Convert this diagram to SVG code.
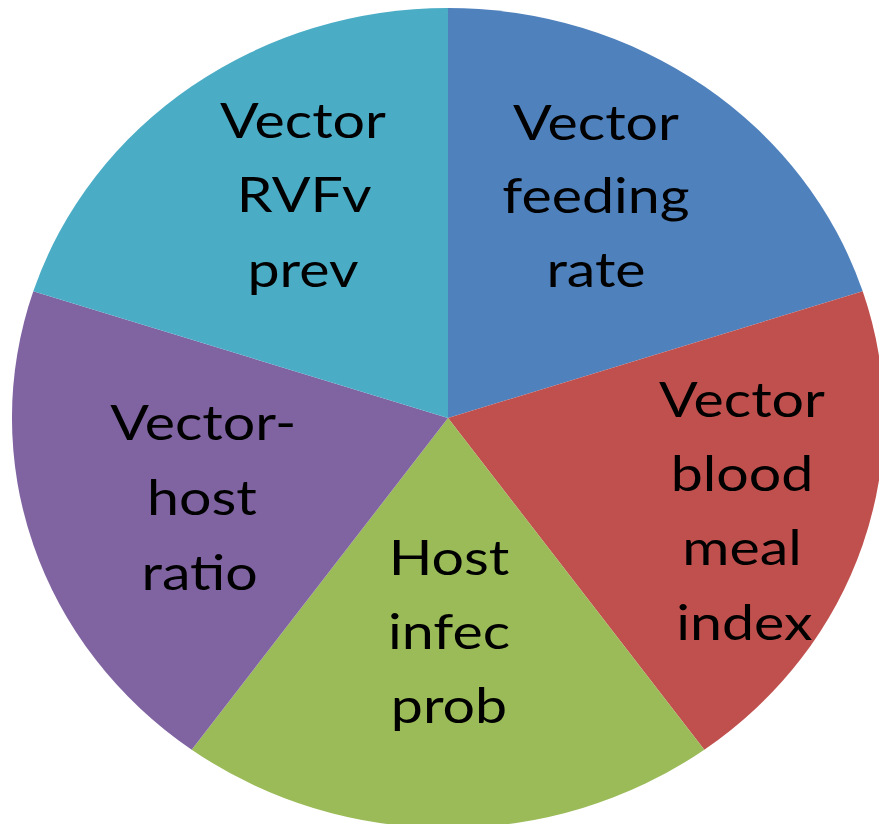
<svg xmlns="http://www.w3.org/2000/svg" width="879" height="824" viewBox="0 0 879 824">
<style>
text{font-family:Lato,"Open Sans","Liberation Sans",sans-serif;font-size:49px;fill:#000;text-anchor:middle}
</style>
<rect width="879" height="824" fill="#fff"/>
<g id="slice-feeding">
<path d="M448,418 L448,8 A436,410 0 0,1 862.7,291.3 Z" fill="#4F81BD"/>
<text transform="translate(596,0) scale(1.17,1)"><tspan x="0" y="140">Vector</tspan><tspan x="0" y="213">feeding</tspan><tspan x="0" y="287">rate</tspan></text>
</g>
<g id="slice-bloodmeal">
<path d="M448,418 L862.7,291.3 A436,410 0 0,1 704.3,749.7 Z" fill="#C0504D"/>
<text transform="translate(742,0) scale(1.17,1)"><tspan x="0" y="417">Vector</tspan><tspan x="0" y="491">blood</tspan><tspan x="0" y="565">meal</tspan><tspan x="2" y="640">index</tspan></text>
</g>
<g id="slice-hostinfec">
<path d="M448,418 L704.3,749.7 A436,410 0 0,1 191.7,749.7 Z" fill="#9BBB59"/>
<text transform="translate(449,0) scale(1.17,1)"><tspan x="0" y="575">Host</tspan><tspan x="0" y="649">infec</tspan><tspan x="0" y="723">prob</tspan></text>
</g>
<g id="slice-ratio">
<path d="M448,418 L191.7,749.7 A436,410 0 0,1 33.3,291.3 Z" fill="#8064A2"/>
<text transform="translate(202,0) scale(1.17,1)"><tspan x="1" y="440">Vector-</tspan><tspan x="0" y="515">host</tspan><tspan x="-2" y="590">ratio</tspan></text>
</g>
<g id="slice-rvfv">
<path d="M448,418 L33.3,291.3 A436,410 0 0,1 448,8 Z" fill="#4BACC6"/>
<text transform="translate(303,0) scale(1.17,1)"><tspan x="0" y="138">Vector</tspan><tspan x="1" y="212">RVFv</tspan><tspan x="0" y="287">prev</tspan></text>
</g>
<g id="connectors"/>
</svg>
